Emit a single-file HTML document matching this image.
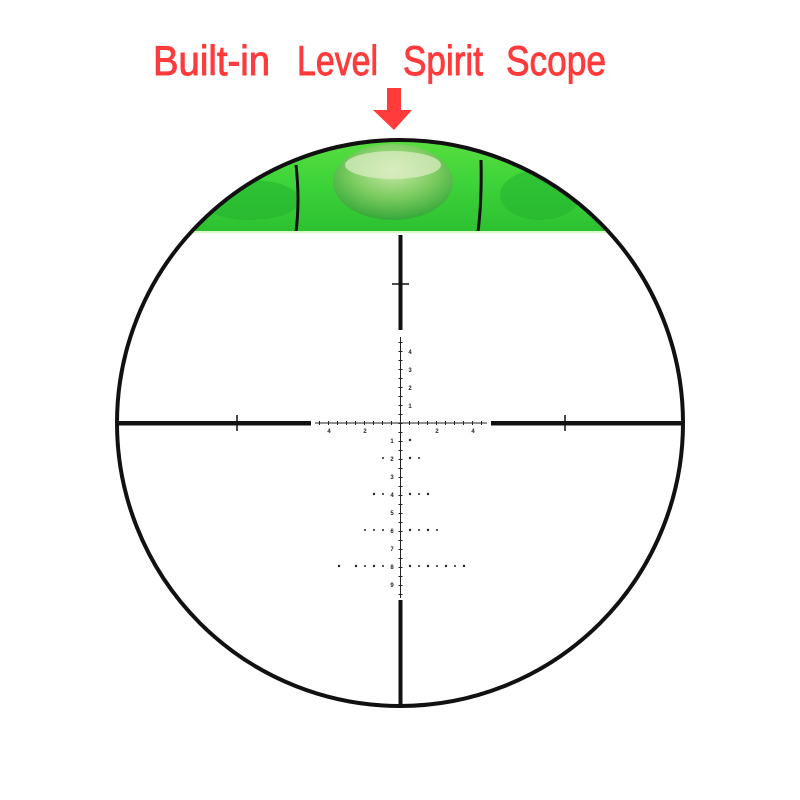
<!DOCTYPE html>
<html><head><meta charset="utf-8"><style>
html,body{margin:0;padding:0;background:#fff;width:800px;height:800px;overflow:hidden}
</style></head><body>
<svg width="800" height="800" viewBox="0 0 800 800" xmlns="http://www.w3.org/2000/svg">
<defs>
<clipPath id="c"><circle cx="400" cy="423" r="283"/></clipPath>
<linearGradient id="g" x1="0" y1="0" x2="0" y2="1">
<stop offset="0" stop-color="#5fe040"/><stop offset="0.5" stop-color="#3ed43a"/><stop offset="1" stop-color="#2cc030"/>
</linearGradient>
<radialGradient id="b" cx="0.5" cy="0.35" r="0.65">
<stop offset="0" stop-color="#c8e8a8"/><stop offset="0.55" stop-color="#7ccc60"/><stop offset="1" stop-color="#35a83a"/>
</radialGradient>
</defs>
<g font-family="Liberation Sans, sans-serif" font-size="42" fill="#ff3b3b" stroke="#ff3b3b" stroke-width="0.9">
<text x="153" y="75" textLength="117" lengthAdjust="spacingAndGlyphs">Built-in</text>
<text x="297" y="75" textLength="81" lengthAdjust="spacingAndGlyphs">Level</text>
<text x="403" y="75" textLength="80" lengthAdjust="spacingAndGlyphs">Spirit</text>
<text x="506" y="75" textLength="100" lengthAdjust="spacingAndGlyphs">Scope</text>
</g>
<polygon points="387,88 401,88 401,110 412,110 394,130 373,110 387,110" fill="#ff3b3b"/>
<g clip-path="url(#c)">
<rect x="100" y="130" width="600" height="103" fill="url(#g)"/>
<ellipse cx="250" cy="200" rx="50" ry="20" fill="#22b030" opacity="0.5"/>
<ellipse cx="540" cy="195" rx="40" ry="25" fill="#22b030" opacity="0.5"/>
<ellipse cx="393" cy="182" rx="60" ry="38" fill="url(#b)"/>
<ellipse cx="393" cy="165" rx="48" ry="14" fill="#e0eec8" opacity="0.7"/>
<path d="M296,165 Q300,200 296,232" stroke="#111" stroke-width="3" fill="none"/>
<path d="M481,160 Q482,200 478,232" stroke="#111" stroke-width="3" fill="none"/>
<line x1="100" y1="232" x2="700" y2="232" stroke="#d8f8c8" stroke-width="2"/>
</g>
<circle cx="400" cy="423" r="283" fill="none" stroke="#111" stroke-width="4"/>
<rect x="398.5" y="235" width="4" height="95" fill="#111"/>
<line x1="392" y1="284" x2="409" y2="284" stroke="#111" stroke-width="1.5"/>
<rect x="398.5" y="600" width="4" height="105" fill="#111"/>
<rect x="117" y="421" width="194" height="4.5" fill="#111"/>
<line x1="237" y1="415" x2="237" y2="431" stroke="#111" stroke-width="1.5"/>
<rect x="491" y="421" width="193" height="4.5" fill="#111"/>
<line x1="565" y1="415" x2="565" y2="431" stroke="#111" stroke-width="1.5"/>
<line x1="400.5" y1="337" x2="400.5" y2="598" stroke="#222" stroke-width="1"/>
<line x1="315" y1="423" x2="487" y2="423" stroke="#222" stroke-width="1"/>
<line x1="400.5" y1="342" x2="400.5" y2="598" stroke="#222" stroke-width="4" stroke-dasharray="1 8"/>
<line x1="319" y1="423" x2="487" y2="423" stroke="#222" stroke-width="4" stroke-dasharray="1 8"/>
<g font-family="Liberation Sans, sans-serif" font-size="6" font-weight="bold" fill="#222" text-anchor="middle">
<text x="410" y="354">4</text><text x="410" y="372">3</text><text x="410" y="390">2</text><text x="410" y="408">1</text>
<text x="329" y="433">4</text><text x="365" y="433">2</text><text x="437" y="433">2</text><text x="473" y="433">4</text>
<text x="392" y="443">1</text><text x="392" y="461">2</text><text x="392" y="479">3</text><text x="392" y="497">4</text>
<text x="392" y="515">5</text><text x="392" y="533">6</text><text x="392" y="551">7</text><text x="392" y="569">8</text><text x="392" y="587">9</text>
</g>
<g fill="#222">
<circle cx="410" cy="440" r="1.2"/>
<circle cx="383" cy="458" r="1"/><circle cx="410" cy="458" r="1.2"/><circle cx="419" cy="458" r="1"/>
<circle cx="374" cy="494" r="1.2"/><circle cx="383" cy="494" r="1"/><circle cx="410" cy="494" r="1.2"/><circle cx="419" cy="494" r="1"/><circle cx="428" cy="494" r="1.2"/>
<circle cx="365" cy="530" r="1"/><circle cx="374" cy="530" r="1"/><circle cx="383" cy="530" r="1"/><circle cx="410" cy="530" r="1.2"/><circle cx="419" cy="530" r="1"/><circle cx="428" cy="530" r="1.2"/><circle cx="437" cy="530" r="1"/>
<circle cx="339" cy="566" r="1.2"/><circle cx="356" cy="566" r="1.2"/><circle cx="365" cy="566" r="1"/><circle cx="374" cy="566" r="1.2"/><circle cx="383" cy="566" r="1"/>
<circle cx="410" cy="566" r="1.2"/><circle cx="419" cy="566" r="1"/><circle cx="428" cy="566" r="1.2"/><circle cx="437" cy="566" r="1"/><circle cx="446" cy="566" r="1.2"/><circle cx="455" cy="566" r="1"/><circle cx="464" cy="566" r="1.2"/>
</g>
</svg>
</body></html>
